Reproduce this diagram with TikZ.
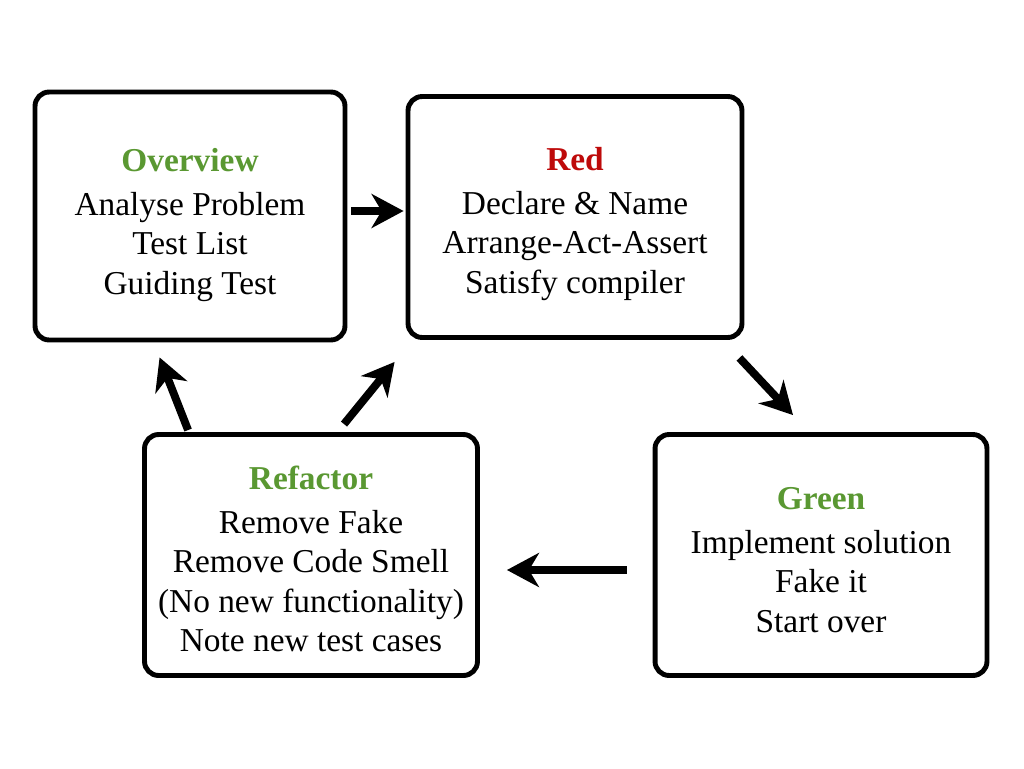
\documentclass[tikz,border=0pt]{standalone}
\usepackage{fontspec}
\setmainfont{Liberation Serif}
\usepackage{xcolor}
\usetikzlibrary{arrows.meta,calc}
\definecolor{tddgreen}{RGB}{90,152,50}
\definecolor{tddred}{RGB}{190,10,10}

\begin{document}
\begin{tikzpicture}[x=0.02cm, y=-0.02cm]
		\tikzstyle{every node}=[font=\fontsize{19}{22.5}\selectfont]
		\tikzstyle{phase}=[draw, line width=2.8pt, rounded corners=8pt]
		\tikzstyle{txt}=[align=center]
		\tikzstyle{arr}=[line width=4.5pt, -{Stealth[length=0.64cm, width=0.68cm, inset=0.2cm]}]
		\useasboundingbox (0,0) rectangle (1024,768);
		% boxes
		\node [phase, minimum width=6.2cm, minimum height=4.96cm] (ov) at (190,216) {};
		\node [phase, minimum width=6.68cm, minimum height=4.82cm] (red) at (575,217) {};
		\node [phase, minimum width=6.64cm, minimum height=4.82cm] (green) at (821,555) {};
		\node [phase, minimum width=6.66cm, minimum height=4.82cm] (ref) at (311,555) {};
		% texts
		\node [txt] (ovtext) at ($(ov)+(0,9)$) {{\bfseries\color{tddgreen}Overview}\\[2.3pt] Analyse Problem\\ Test List\\ Guiding Test};
		\node [txt] (redtext) at ($(red)+(0,7)$) {{\bfseries\color{tddred}Red}\\[2.3pt] Declare \& Name\\ Arrange-Act-Assert\\ Satisfy compiler};
		\node [txt] (greentext) at ($(green)+(0,5)$) {{\bfseries\color{tddgreen}Green}\\[2.3pt] Implement solution\\ Fake it\\ Start over};
		\node [txt] (reftext) at ($(ref)+(0,4)$) {{\bfseries\color{tddgreen}Refactor}\\[2.3pt] Remove Fake\\ Remove Code Smell\\ (No new functionality)\\ Note new test cases};
		% arrows
		\draw [arr] ($(ov.east)+(4,-5)$) -- ($(red.west)+(-2,-6)$);
		\draw [arr] ($(red.south east)+(-5,18)$) -- ($(green.north)+(-28,-17)$);
		\draw [arr] ($(green.west)+(-26,15)$) -- ($(ref.east)+(27,15)$);
		\draw [arr] ($(ref.north west)+(46,-2)$) -- ($(ov.south west)+(127,15)$);
		\draw [arr] ($(ref.north)+(33,-8)$) -- ($(red.south west)+(-11,22)$);
		\end{tikzpicture}
\end{document}
